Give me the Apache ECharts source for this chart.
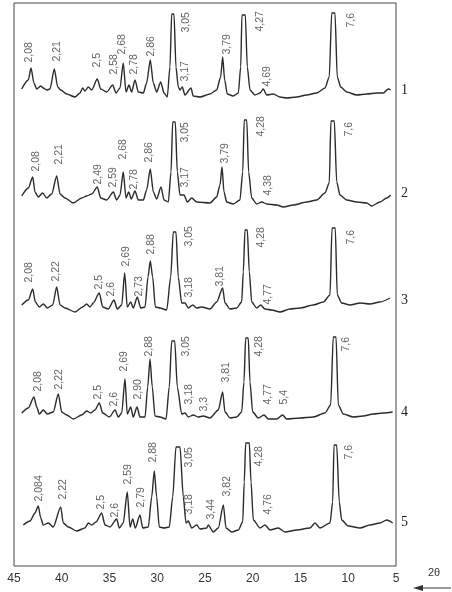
<!DOCTYPE html>
<html>
<head>
<meta charset="utf-8">
<script src="https://cdn.jsdelivr.net/npm/echarts@6/dist/echarts.min.js"></script>
<style>
  html, body { margin: 0; padding: 0; background: #fff; }
  #chart { width: 452px; height: 592px; }
</style>
</head>
<body>
<div id="chart"></div>
<script>
// 2θ tick labels of the bottom axis
const twoThetaTicks = [5, 10, 15, 20, 25, 30, 35, 40, 45]
const sampleNames = ['1', '2', '3', '4', '5']

// [2θ, intensity]
const trace1 = [[44.2,11],[43.5,20],[43.22,32],[42.91,17],[42.62,11],[42.2,14],[41.93,12],[41.58,10],[41.23,11],[40.78,31],[40.42,13],[40.11,10],[39.48,6],[38.61,3],[38.09,7],[37.81,12],[37.57,9],[37.22,13],[36.86,10],[36.28,21],[35.92,11],[35.29,8],[34.67,15],[34.32,7],[33.9,12],[33.56,37],[33.27,8],[32.96,15],[32.68,8],[32.33,20],[31.98,8],[31.46,7],[31.11,17],[30.73,40],[30.41,17],[30.06,8],[29.64,18],[29.29,7],[28.95,3],[28.67,33],[28.49,86],[28.25,86],[28.04,33],[27.8,13],[27.62,10],[27.38,13],[27.1,5],[26.47,12],[26.23,4],[25.52,3],[24.48,6],[23.78,10],[23.36,23],[23.15,43],[22.94,20],[22.67,6],[22.04,4],[21.51,7],[21.26,33],[21.13,85],[20.78,85],[20.57,33],[20.29,10],[19.77,5],[19.24,7],[18.9,11],[18.54,5],[17.85,6],[17.15,3],[16.45,2],[15.4,3],[14.35,5],[13.3,7],[12.44,12],[11.99,23],[11.73,87],[11.39,87],[11.15,23],[10.79,13],[10.16,8],[9.12,5],[8.07,6],[7.02,7],[6.33,7],[5.81,11],[5.56,10]]
const trace2 = [[44.19,14],[43.5,22],[43.04,33],[42.8,18],[42.46,13],[42.0,17],[41.58,12],[41.05,16],[40.53,34],[40.18,16],[39.66,12],[38.79,7],[37.91,12],[37.39,14],[36.86,16],[36.28,23],[35.92,12],[35.29,10],[34.6,18],[34.25,10],[33.9,15],[33.56,38],[33.27,12],[32.99,18],[32.72,11],[32.33,19],[31.98,10],[31.46,10],[31.11,20],[30.73,41],[30.41,18],[30.06,11],[29.61,23],[29.29,10],[28.84,8],[28.56,38],[28.38,88],[28.11,88],[27.9,38],[27.62,15],[27.2,15],[26.85,8],[26.39,12],[25.87,8],[24.48,7],[23.78,13],[23.43,25],[23.22,43],[23.01,18],[22.73,8],[22.04,6],[21.34,10],[21.05,38],[20.89,90],[20.63,90],[20.43,38],[20.11,12],[19.59,6],[19.06,8],[18.54,6],[17.49,5],[16.8,3],[15.75,5],[14.35,8],[13.3,10],[12.44,17],[11.99,27],[11.81,89],[11.46,89],[11.21,28],[10.86,15],[10.16,10],[9.12,8],[8.07,7],[7.55,4],[6.68,8],[5.97,12],[5.56,15]]
const trace3 = [[44.19,10],[43.5,15],[43.04,26],[42.77,13],[42.35,8],[41.93,11],[41.51,7],[40.95,10],[40.53,28],[40.18,10],[39.66,7],[38.61,3],[37.81,8],[37.39,11],[37.04,8],[36.7,12],[36.07,22],[35.71,8],[35.13,6],[34.53,15],[34.18,6],[33.72,10],[33.41,42],[33.14,8],[32.78,13],[32.51,7],[32.09,18],[31.73,7],[31.28,8],[30.97,38],[30.73,54],[30.48,38],[30.2,8],[29.71,7],[29.01,5],[28.59,38],[28.32,83],[28.04,83],[27.8,38],[27.44,12],[27.09,12],[26.75,7],[26.29,10],[25.87,7],[25.35,8],[24.48,6],[23.78,13],[23.15,27],[22.91,12],[22.38,6],[21.68,7],[21.16,13],[20.99,43],[20.81,85],[20.57,85],[20.36,43],[20.11,13],[19.59,7],[19.17,10],[18.72,6],[18.02,5],[17.15,3],[16.1,6],[15.05,7],[13.66,10],[12.61,13],[11.91,20],[11.7,87],[11.36,87],[11.15,20],[10.69,12],[9.82,10],[8.77,12],[7.72,11],[6.68,13],[5.63,17]]
const trace4 = [[44.19,12],[43.5,17],[42.91,28],[42.62,18],[42.35,11],[41.93,15],[41.51,11],[40.89,13],[40.36,31],[40.01,13],[39.48,10],[38.79,6],[37.91,10],[37.39,14],[36.97,12],[36.52,15],[36.07,22],[35.71,12],[35.02,8],[34.42,15],[34.08,8],[33.72,12],[33.38,46],[33.14,11],[32.78,18],[32.51,8],[32.12,18],[31.81,8],[31.28,8],[31.0,38],[30.76,66],[30.52,38],[30.24,9],[29.71,8],[29.08,6],[28.74,38],[28.49,84],[28.17,84],[27.9,38],[27.44,11],[27.09,12],[26.75,8],[26.23,10],[25.7,8],[25.18,9],[24.48,7],[23.61,15],[23.15,33],[22.91,13],[22.38,7],[21.68,8],[21.16,13],[20.92,43],[20.74,87],[20.47,87],[20.29,43],[20.01,13],[19.42,7],[18.82,10],[18.37,6],[17.49,6],[16.87,10],[16.45,6],[15.05,7],[13.66,8],[12.44,12],[11.84,20],[11.57,88],[11.28,88],[11.04,20],[10.52,11],[9.47,8],[8.43,9],[7.38,11],[6.33,12],[5.35,13]]
const trace5 = [[44.03,15],[43.32,19],[42.8,27],[42.46,34],[42.2,22],[41.93,15],[41.41,17],[40.89,13],[40.11,33],[39.84,17],[39.31,13],[38.43,9],[37.57,12],[37.22,17],[36.86,15],[36.41,18],[35.82,27],[35.47,15],[34.95,13],[34.25,21],[33.97,12],[33.56,17],[33.14,48],[32.85,13],[32.57,21],[32.3,12],[31.81,25],[31.52,12],[30.94,13],[30.58,43],[30.31,69],[30.06,43],[29.79,13],[29.29,12],[28.74,13],[28.38,43],[28.04,93],[27.62,93],[27.27,43],[26.99,17],[26.75,19],[26.39,12],[25.87,15],[25.52,11],[24.82,12],[24.66,15],[24.13,8],[23.61,12],[23.08,35],[22.8,12],[22.2,8],[21.51,10],[21.05,18],[20.89,58],[20.74,97],[20.36,97],[20.18,58],[19.94,20],[19.24,12],[18.72,15],[18.19,10],[17.33,12],[16.62,8],[15.4,10],[14.01,12],[13.48,17],[12.96,12],[11.91,17],[11.63,38],[11.49,95],[11.21,95],[10.94,38],[10.69,20],[10.0,14],[8.77,12],[7.72,15],[6.68,17],[5.97,20],[5.35,17]]

// d-spacing labels: [2θ, intensity where the label starts, text]
const peaks1 = [[43.32,37,'2,08'],[40.39,38,'2,21'],[36.2,32,'2,5'],[34.43,25,'2,58'],[33.59,45,'2,68'],[32.33,25,'2,78'],[30.55,43,'2,86'],[26.89,67,'3,05'],[26.99,18,'3,17'],[22.59,45,'3,79'],[19.14,68,'4,27'],[18.41,13,'4,69'],[9.61,72,'7,6']]
const peaks2 = [[42.62,38,'2,08'],[40.26,45,'2,21'],[36.17,25,'2,49'],[34.6,22,'2,59'],[33.56,50,'2,68'],[32.33,20,'2,78'],[30.76,47,'2,86'],[26.99,67,'3,05'],[26.99,22,'3,17'],[22.8,46,'3,79'],[19.06,73,'4,28'],[18.37,14,'4,38'],[9.89,73,'7,6']]
const peaks3 = [[43.4,32,'2,08'],[40.53,33,'2,22'],[36.07,25,'2,5'],[34.77,18,'2,6'],[33.2,48,'2,69'],[31.81,18,'2,73'],[30.58,60,'2,88'],[26.57,68,'3,05'],[26.57,17,'3,18'],[23.36,28,'3,81'],[19.06,67,'4,28'],[18.37,10,'4,77'],[9.64,70,'7,6']]
const peaks4 = [[42.46,33,'2,08'],[40.26,35,'2,22'],[36.17,25,'2,5'],[34.42,18,'2,6'],[33.38,53,'2,69'],[31.98,25,'2,90'],[30.76,68,'2,88'],[26.92,68,'3,05'],[26.57,20,'3,18'],[25.0,13,'3,3'],[22.73,42,'3,81'],[19.24,68,'4,28'],[18.37,20,'4,77'],[16.62,20,'5,4'],[10.16,73,'7,6']]
const peaks5 = [[42.35,38,'2,084'],[39.84,40,'2,22'],[35.82,30,'2,5'],[34.32,22,'2,6'],[33.03,55,'2,59'],[31.63,32,'2,79'],[30.41,77,'2,88'],[26.57,72,'3,05'],[26.57,25,'3,18'],[24.3,20,'3,44'],[22.67,43,'3,82'],[19.24,73,'4,28'],[18.37,25,'4,76'],[9.89,80,'7,6']]

const traces = [trace1, trace2, trace3, trace4, trace5]
const peakLabels = [peaks1, peaks2, peaks3, peaks4, peaks5]

const chart = echarts.init(document.getElementById('chart'))

const frame = { left: 14, top: 3, width: 382, height: 563 }
const panelTops = [0, 110, 215, 325, 440]
const panelHeight = 100
const xMin = Math.min(...twoThetaTicks)
const xMax = Math.max(...twoThetaTicks)
const xStep = twoThetaTicks[1] - twoThetaTicks[0]

const grids = panelTops.map((top) => ({
  left: frame.left, width: frame.width, top: top, height: panelHeight,
}))
grids.push({
  left: frame.left, width: frame.width, top: frame.top, height: frame.height,
  show: true, borderColor: '#444', borderWidth: 1, backgroundColor: 'transparent',
})

const xAxes = panelTops.map((_, i) => ({
  type: 'value', gridIndex: i, min: xMin, max: xMax, inverse: true, show: false,
}))
xAxes.push({
  type: 'value', gridIndex: 5, min: xMin, max: xMax, interval: xStep, inverse: true,
  axisLine: { show: false },
  axisTick: { show: false },
  splitLine: { show: false },
  axisLabel: { margin: 7, color: '#333', fontSize: 12, fontFamily: 'Liberation Sans, Arial, sans-serif' },
})

const yAxes = panelTops.map((_, i) => ({
  type: 'value', gridIndex: i, min: 0, max: panelHeight, show: false,
}))
yAxes.push({ type: 'value', gridIndex: 5, min: 0, max: 1, show: false })

const series = []
traces.forEach((trace, i) => {
  series.push({
    name: sampleNames[i],
    type: 'line',
    xAxisIndex: i,
    yAxisIndex: i,
    data: trace,
    showSymbol: false,
    symbol: 'none',
    smooth: 0.25,
    smoothMonotone: 'x',
    clip: false,
    lineStyle: { color: '#2b2b2b', width: 1.4 },
    z: 3,
  })
  series.push({
    type: 'scatter',
    xAxisIndex: i,
    yAxisIndex: i,
    symbolSize: 1,
    itemStyle: { color: 'transparent' },
    data: peakLabels[i].map((p) => ({ name: p[2], value: [p[0], p[1]] })),
    label: {
      show: true,
      formatter: '{b}',
      position: [0, 0],
      rotate: 90,
      align: 'left',
      verticalAlign: 'middle',
      fontSize: 10.5,
      color: '#3a3a3a',
      fontFamily: 'Liberation Sans Narrow, Arial Narrow, Liberation Sans, sans-serif',
    },
    z: 4,
  })
})

const sampleLabelY = [90, 193, 300, 412, 522]
const graphic = sampleNames.map((n, i) => ({
  type: 'text',
  x: 401,
  y: sampleLabelY[i],
  style: {
    text: n,
    font: '14px "Liberation Serif", "Times New Roman", serif',
    fill: '#222',
    verticalAlign: 'middle',
  },
}))
graphic.push(
  {
    type: 'text', x: 434, y: 573,
    style: { text: '2θ', font: '11px "Liberation Sans", Arial, sans-serif', fill: '#333', align: 'center', verticalAlign: 'middle' },
  },
  {
    type: 'line', shape: { x1: 420, y1: 588, x2: 451, y2: 588 },
    style: { stroke: '#333', lineWidth: 1 },
  },
  {
    type: 'polygon', shape: { points: [[413, 588], [423, 585], [423, 591]] },
    style: { fill: '#333' },
  }
)

chart.setOption({
  animation: false,
  backgroundColor: '#fff',
  grid: grids,
  xAxis: xAxes,
  yAxis: yAxes,
  series: series,
  graphic: graphic,
})
</script>
</body>
</html>
